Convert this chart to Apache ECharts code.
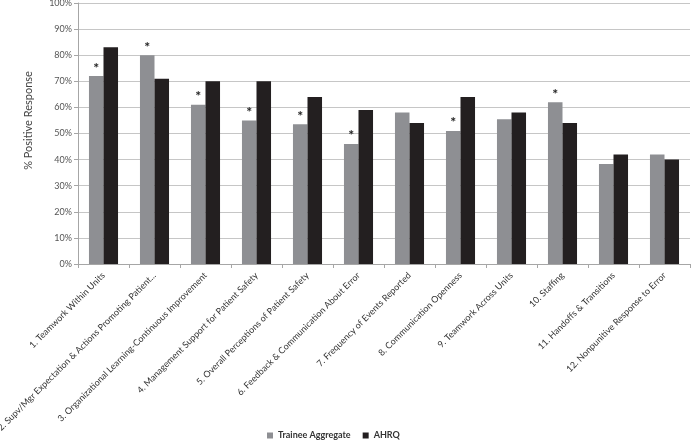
<!DOCTYPE html>
<html><head><meta charset="utf-8">
<script src="https://cdn.jsdelivr.net/npm/echarts@6/dist/echarts.min.js"></script>
<style>html,body{margin:0;padding:0;background:#fff}#c{width:694px;height:441px}</style>
</head><body><div id="c"></div>
<script>
const categories = [
  "1. Teamwork Within Units",
  "2. Supv/Mgr Expectation & Actions Promoting Patient...",
  "3. Organizational Learning-Continuous Improvement",
  "4. Management Support for Patient Safety",
  "5. Overall Perceptions of Patient Safety",
  "6. Feedback & Communication About Error",
  "7. Frequency of Events Reported",
  "8. Communication Openness",
  "9. Teamwork Across Units",
  "10. Staffing",
  "11. Handoffs & Transitions",
  "12. Nonpunitive Response to Error"
];
const trainee = [72, 80, 61, 55, 53.5, 46, 58, 51, 55.5, 62, 38.3, 42];
const ahrq = [83, 71, 70, 70, 64, 59, 54, 64, 58, 54, 42, 40];
const significant = [true, true, true, true, true, true, false, true, false, true, false, false];
const yTicks = [0,10,20,30,40,50,60,70,80,90,100];

const chart = echarts.init(document.getElementById('c'));
const font = 'Lato, "Open Sans", sans-serif';
chart.setOption({
  animation: false,
  textStyle: {fontFamily: font},
  grid: {left: 78, top: 3, right: 4, bottom: 177, containLabel: false, outerBoundsMode: 'none'},
  legend: {
    top: 430, left: 266, padding: 1, itemWidth: 6, itemHeight: 6, itemGap: 12,
    icon: 'rect',
    textStyle: {fontFamily: font, fontWeight: 'bold', fontSize: 9, color: '#333'},
    data: ['Trainee Aggregate', 'AHRQ']
  },
  xAxis: {
    type: 'category', data: categories,
    axisLine: {lineStyle: {color: '#a6a6a6'}},
    axisTick: {show: true, length: 4, lineStyle: {color: '#a6a6a6'}},
    axisLabel: {rotate: 45, interval: 0, fontSize: 9, color: '#333', margin: 10, fontFamily: font}
  },
  yAxis: {
    type: 'value', min: 0, max: 100, interval: 10,
    name: '% Positive Response', nameLocation: 'middle', nameGap: 44, nameRotate: 90,
    nameTextStyle: {fontSize: 11, color: '#444', fontFamily: font, padding: [0,0,0,26]},
    axisLine: {show: true, lineStyle: {color: '#a6a6a6'}},
    axisTick: {show: true, length: 4, lineStyle: {color: '#a6a6a6'}},
    splitLine: {lineStyle: {color: '#c6c6c6'}},
    axisLabel: {formatter: v => v + '%', fontSize: 9, color: '#555', margin: 6, fontFamily: font}
  },
  series: [
    {
      name: 'Trainee Aggregate', type: 'bar', data: trainee,
      barGap: '0%', barCategoryGap: '43%',
      itemStyle: {color: '#8e8f93'},
      label: {
        show: true, position: 'top', distance: 1,
        formatter: p => significant[p.dataIndex] ? '*' : '',
        fontSize: 14, fontWeight: 'bold', color: '#222', fontFamily: font
      }
    },
    {
      name: 'AHRQ', type: 'bar', data: ahrq,
      itemStyle: {color: '#231f20'}
    }
  ]
});
</script></body></html>
